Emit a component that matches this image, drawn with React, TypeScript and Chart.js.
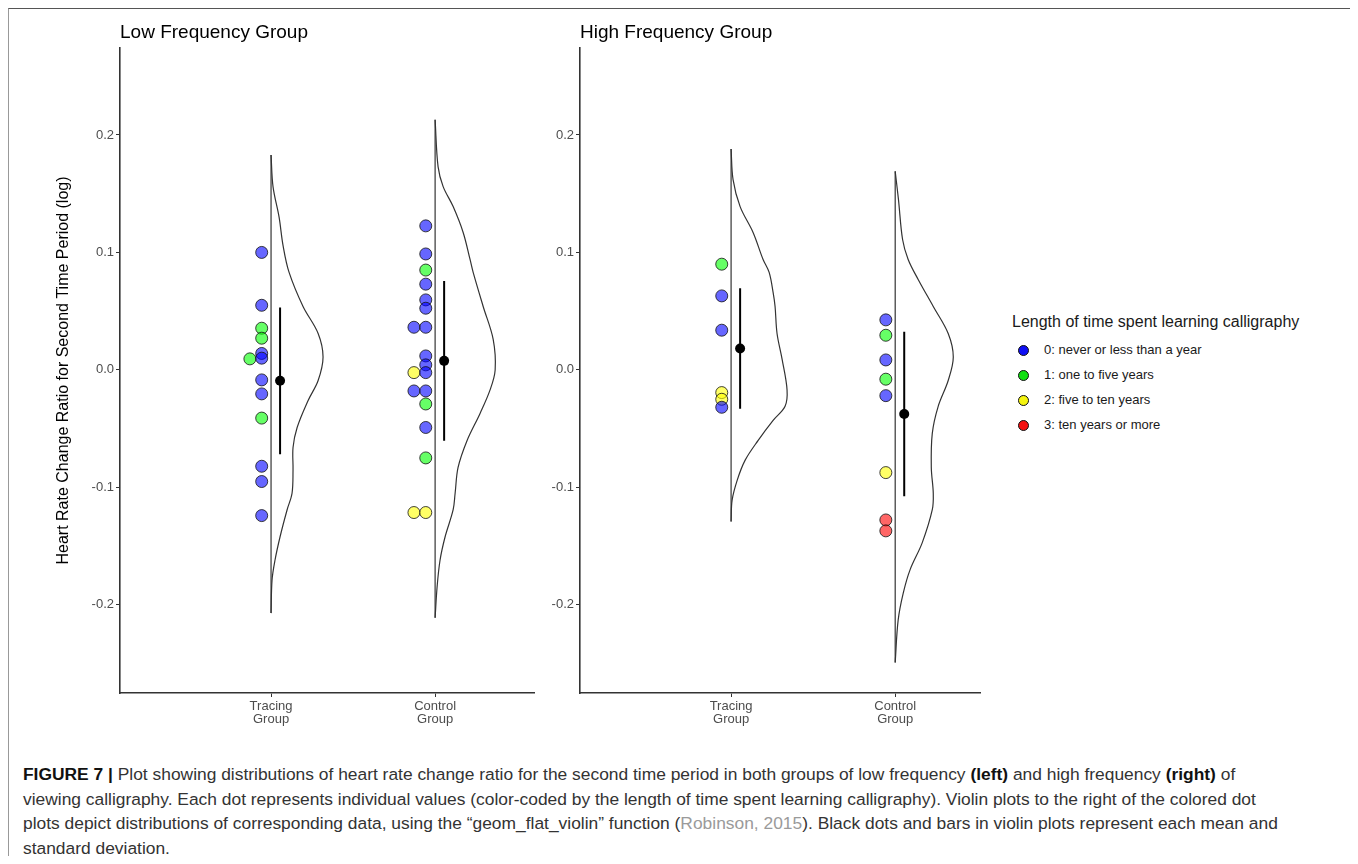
import React, { useEffect, useRef } from "react";
import { Chart, registerables } from "chart.js";

Chart.register(...registerables);

const FONT = "'Liberation Sans', Arial, Helvetica, sans-serif";

// ---------- categories, ticks, labels ----------
const categoryPositions = [1, 2];
const categoryLabels: string[][] = [
  ["Tracing", "Group"],
  ["Control", "Group"],
];
const yTickValues = [-0.2, -0.1, 0, 0.1, 0.2];
const panelTitles = ["Low Frequency Group", "High Frequency Group"];
const yAxisTitle = "Heart Rate Change Ratio for Second Time Period (log)";
const legendTitle = "Length of time spent learning calligraphy";
const levelLabels = [
  "0: never or less than a year",
  "1: one to five years",
  "2: five to ten years",
  "3: ten years or more",
];

// ---------- Low frequency: Tracing group ----------
const lowTracingValues = [0.1, 0.055, 0.0355, 0.027, 0.014, 0.01, 0.0094, -0.0085, -0.0204, -0.041, -0.082, -0.095, -0.124];
const lowTracingLevels = [0, 0, 1, 1, 0, 0, 1, 0, 0, 1, 0, 0, 0];
const lowTracingLanes = [0, 0, 0, 0, 0, 0, 1, 0, 0, 0, 0, 0, 0];
const lowTracingViolinY = [0.183, 0.156, 0.13, 0.106, 0.083, 0.054, 0.031, 0.011, -0.009, -0.026, -0.049, -0.066, -0.085, -0.105, -0.119, -0.142, -0.162, -0.179, -0.207];
const lowTracingViolinW = [0, 0.012, 0.049, 0.073, 0.11, 0.195, 0.287, 0.317, 0.287, 0.226, 0.159, 0.134, 0.134, 0.128, 0.098, 0.055, 0.024, 0.006, 0];

// ---------- Low frequency: Control group ----------
const lowControlValues = [0.1226, 0.0987, 0.085, 0.073, 0.0596, 0.0525, 0.0363, 0.0363, 0.0119, 0.0043, -0.0023, -0.0023, -0.0179, -0.0179, -0.029, -0.049, -0.0749, -0.1214, -0.1214];
const lowControlLevels = [0, 0, 1, 0, 0, 0, 0, 0, 0, 0, 0, 2, 0, 0, 1, 0, 1, 2, 2];
const lowControlLanes = [0, 0, 0, 0, 0, 0, 1, 0, 0, 0, 0, 1, 1, 0, 0, 0, 0, 1, 0];
const lowControlViolinY = [0.213, 0.173, 0.156, 0.139, 0.117, 0.094, 0.083, 0.054, 0.026, 0.0, -0.017, -0.037, -0.06, -0.083, -0.105, -0.119, -0.142, -0.162, -0.185, -0.211];
const lowControlViolinW = [0, 0.018, 0.049, 0.11, 0.171, 0.213, 0.232, 0.293, 0.354, 0.366, 0.335, 0.274, 0.195, 0.14, 0.122, 0.11, 0.061, 0.03, 0.012, 0];

// ---------- High frequency: Tracing group ----------
const highTracingValues = [0.09, 0.063, 0.0338, -0.0193, -0.025, -0.0318];
const highTracingLevels = [1, 0, 0, 2, 2, 0];
const highTracingLanes = [0, 0, 0, 0, 0, 0];
const highTracingViolinY = [0.188, 0.162, 0.139, 0.117, 0.094, 0.083, 0.066, 0.054, 0.031, 0.009, -0.017, -0.031, -0.043, -0.06, -0.077, -0.094, -0.111, -0.129];
const highTracingViolinW = [0, 0.012, 0.055, 0.134, 0.195, 0.232, 0.256, 0.268, 0.28, 0.311, 0.341, 0.329, 0.256, 0.165, 0.085, 0.037, 0.006, 0];

// ---------- High frequency: Control group ----------
const highControlValues = [0.0426, 0.0295, 0.0085, -0.0079, -0.0219, -0.0874, -0.1277, -0.137];
const highControlLevels = [0, 1, 0, 1, 0, 2, 3, 3];
const highControlLanes = [0, 0, 0, 0, 0, 0, 0, 0];
const highControlViolinY = [0.169, 0.145, 0.111, 0.094, 0.077, 0.054, 0.031, 0.011, -0.009, -0.031, -0.054, -0.083, -0.105, -0.119, -0.147, -0.17, -0.19, -0.213, -0.249];
const highControlViolinW = [0, 0.02, 0.045, 0.079, 0.14, 0.232, 0.323, 0.354, 0.323, 0.262, 0.226, 0.22, 0.232, 0.226, 0.165, 0.091, 0.049, 0.018, 0];

// ---------- means and standard deviations ----------
const lowMeans = [-0.0093, 0.0077];
const lowSds = [0.0625, 0.068];
const highMeans = [0.0183, -0.0375];
const highSds = [0.0513, 0.07];

// ---------- styles ----------
const levelFill = ["rgba(0,0,255,0.6)", "rgba(0,255,0,0.6)", "rgba(255,255,0,0.6)", "rgba(255,0,0,0.6)"];
const levelKey = ["#1010f5", "#10e010", "#f5f510", "#f51010"];
const DOT_OFFSET = -0.057;
const LANE_STEP = 0.072;
const MEAN_OFFSET = 0.055;

type Group = {
  values: number[];
  levels: number[];
  lanes: number[];
  violinY: number[];
  violinW: number[];
  mean: number;
  sd: number;
};

const lowGroups: Group[] = [
  { values: lowTracingValues, levels: lowTracingLevels, lanes: lowTracingLanes, violinY: lowTracingViolinY, violinW: lowTracingViolinW, mean: lowMeans[0], sd: lowSds[0] },
  { values: lowControlValues, levels: lowControlLevels, lanes: lowControlLanes, violinY: lowControlViolinY, violinW: lowControlViolinW, mean: lowMeans[1], sd: lowSds[1] },
];
const highGroups: Group[] = [
  { values: highTracingValues, levels: highTracingLevels, lanes: highTracingLanes, violinY: highTracingViolinY, violinW: highTracingViolinW, mean: highMeans[0], sd: highSds[0] },
  { values: highControlValues, levels: highControlLevels, lanes: highControlLanes, violinY: highControlViolinY, violinW: highControlViolinW, mean: highMeans[1], sd: highSds[1] },
];

function buildDatasets(groups: Group[]) {
  const ds: any[] = [];
  // mean dots (drawn on top)
  ds.push({
    data: groups.map((g, i) => ({ x: categoryPositions[i] + MEAN_OFFSET, y: g.mean })),
    pointRadius: 5,
    pointBackgroundColor: "#000",
    pointBorderColor: "#000",
    pointBorderWidth: 0,
  });
  // individual values by level
  for (let lv = 0; lv < 4; lv++) {
    const pts: { x: number; y: number }[] = [];
    groups.forEach((g, i) =>
      g.values.forEach((v, k) => {
        if (g.levels[k] === lv) pts.push({ x: categoryPositions[i] + DOT_OFFSET - LANE_STEP * g.lanes[k], y: v });
      })
    );
    ds.push({
      data: pts,
      pointRadius: 6,
      pointBackgroundColor: levelFill[lv],
      pointBorderColor: "#111",
      pointBorderWidth: 0.8,
    });
  }
  // SD bars
  groups.forEach((g, i) => {
    const x = categoryPositions[i] + MEAN_OFFSET;
    ds.push({
      data: [
        { x, y: g.mean - g.sd },
        { x, y: g.mean + g.sd },
      ],
      showLine: true,
      borderColor: "#000",
      borderWidth: 2,
      pointRadius: 0,
    });
  });
  // flat violins
  groups.forEach((g, i) => {
    const c = categoryPositions[i];
    ds.push({
      data: g.violinY.map((y, k) => ({ x: c + g.violinW[k], y })),
      showLine: true,
      tension: 0.35,
      borderColor: "#333",
      borderWidth: 1.2,
      pointRadius: 0,
    });
    ds.push({
      data: [
        { x: c, y: g.violinY[0] },
        { x: c, y: g.violinY[g.violinY.length - 1] },
      ],
      showLine: true,
      borderColor: "#333",
      borderWidth: 1.2,
      pointRadius: 0,
    });
  });
  return ds;
}

type PanelProps = {
  left: number;
  width: number;
  height: number;
  yAxisWidth: number;
  xMax: number;
  groups: Group[];
  title: string;
  showYTitle: boolean;
};

function Panel({ left, width, height, yAxisWidth, xMax, groups, title, showYTitle }: PanelProps) {
  const ref = useRef<HTMLCanvasElement>(null);
  useEffect(() => {
    if (!ref.current) return;
    const textPlugin = {
      id: "panelText",
      afterDraw(chart: any) {
        const { ctx, chartArea } = chart;
        ctx.save();
        ctx.fillStyle = "#000";
        ctx.textBaseline = "middle";
        ctx.textAlign = "left";
        ctx.font = `19px ${FONT}`;
        ctx.fillText(title, chartArea.left, 25);
        if (showYTitle) {
          ctx.translate(56, (chartArea.top + chartArea.bottom) / 2);
          ctx.rotate(-Math.PI / 2);
          ctx.textAlign = "center";
          ctx.font = `16px ${FONT}`;
          ctx.fillText(yAxisTitle, 0, 0);
        }
        ctx.restore();
      },
    };
    const chart = new Chart(ref.current, {
      type: "scatter",
      data: { datasets: buildDatasets(groups) },
      options: {
        responsive: false,
        animation: false,
        events: [],
        layout: { padding: { top: 40, right: 4, left: 0, bottom: 0 } },
        plugins: { legend: { display: false }, tooltip: { enabled: false }, title: { display: false } },
        scales: {
          x: {
            type: "linear",
            min: 0.0793,
            max: xMax,
            afterBuildTicks: (scale: any) => {
              scale.ticks = categoryPositions.map((v) => ({ value: v }));
            },
            afterFit: (scale: any) => {
              scale.height = 50;
            },
            ticks: {
              callback: (v: any) => categoryLabels[Math.round(v) - 1] ?? "",
              font: { family: FONT, size: 13, lineHeight: 1.02 },
              color: "#4d4d4d",
              padding: 3,
              maxRotation: 0,
              autoSkip: false,
            },
            grid: { display: true, drawOnChartArea: false, drawTicks: true, tickLength: 4, color: "#333", lineWidth: 1 },
            border: { display: true, color: "#333", width: 1.6 },
          },
          y: {
            type: "linear",
            min: -0.275,
            max: 0.274,
            afterBuildTicks: (scale: any) => {
              scale.ticks = yTickValues.map((v) => ({ value: v }));
            },
            afterFit: (scale: any) => {
              scale.width = yAxisWidth;
            },
            ticks: {
              callback: (v: any) => Number(v).toFixed(1),
              font: { family: FONT, size: 13 },
              color: "#4d4d4d",
              padding: 2,
              autoSkip: false,
            },
            grid: { display: true, drawOnChartArea: false, drawTicks: true, tickLength: 4, color: "#333", lineWidth: 1 },
            border: { display: true, color: "#333", width: 1.6 },
          },
        },
      },
      plugins: [textPlugin],
    } as any);
    return () => chart.destroy();
  }, []);
  return (
    <canvas
      ref={ref}
      width={width}
      height={height}
      style={{ position: "absolute", left, top: 0, width, height }}
    />
  );
}

function Legend() {
  return (
    <div style={{ position: "absolute", left: 1004, top: 304, fontFamily: FONT, color: "#1a1a1a" }}>
      <div style={{ fontSize: 16, lineHeight: "19px", whiteSpace: "nowrap" }}>{legendTitle}</div>
      {levelLabels.map((lab, i) => (
        <div key={lab} style={{ position: "absolute", left: 0, top: 30 + i * 25.1, height: 16, whiteSpace: "nowrap" }}>
          <div
            style={{
              position: "absolute",
              left: 6,
              top: 3,
              width: 9,
              height: 9,
              borderRadius: "50%",
              background: levelKey[i],
              border: "1px solid #111",
            }}
          />
          <div style={{ position: "absolute", left: 32, top: 0, fontSize: 13, lineHeight: "16px" }}>{lab}</div>
        </div>
      ))}
    </div>
  );
}

function Caption() {
  const line: React.CSSProperties = { height: 24.5, lineHeight: "24.5px", whiteSpace: "nowrap" };
  return (
    <div style={{ position: "absolute", left: 15, top: 754, fontFamily: FONT, fontSize: 17.4, color: "#333" }}>
      <div style={line}>
        <b style={{ color: "#111" }}>FIGURE 7 |</b> Plot showing distributions of heart rate change ratio for the second time
        period in both groups of low frequency <b style={{ color: "#111" }}>(left)</b> and high frequency{" "}
        <b style={{ color: "#111" }}>(right)</b> of
      </div>
      <div style={line}>
        viewing calligraphy. Each dot represents individual values (color-coded by the length of time spent learning
        calligraphy). Violin plots to the right of the colored dot
      </div>
      <div style={line}>
        plots depict distributions of corresponding data, using the “geom_flat_violin” function (
        <span style={{ color: "#9a9a9a" }}>Robinson, 2015</span>). Black dots and bars in violin plots represent each mean
        and
      </div>
      <div style={line}>standard deviation.</div>
    </div>
  );
}

export default function App() {
  return (
    <div style={{ position: "relative", width: 1342, height: 848, background: "#fff" }}>
      <style>{`html{overflow:hidden;background:#fff}`}</style>
      <div
        style={{
          position: "absolute",
          left: 0,
          top: 0,
          width: 1345,
          height: 900,
          borderTop: "1.5px solid #555",
          borderLeft: "1px solid #999",
          borderRight: "2px solid #888",
          boxSizing: "border-box",
        }}
      />
      <Panel left={0} width={533} height={735} yAxisWidth={112} xMax={2.604} groups={lowGroups} title={panelTitles[0]} showYTitle={true} />
      <Panel left={532} width={447} height={735} yAxisWidth={40} xMax={2.518} groups={highGroups} title={panelTitles[1]} showYTitle={false} />
      <Legend />
      <Caption />
    </div>
  );
}
